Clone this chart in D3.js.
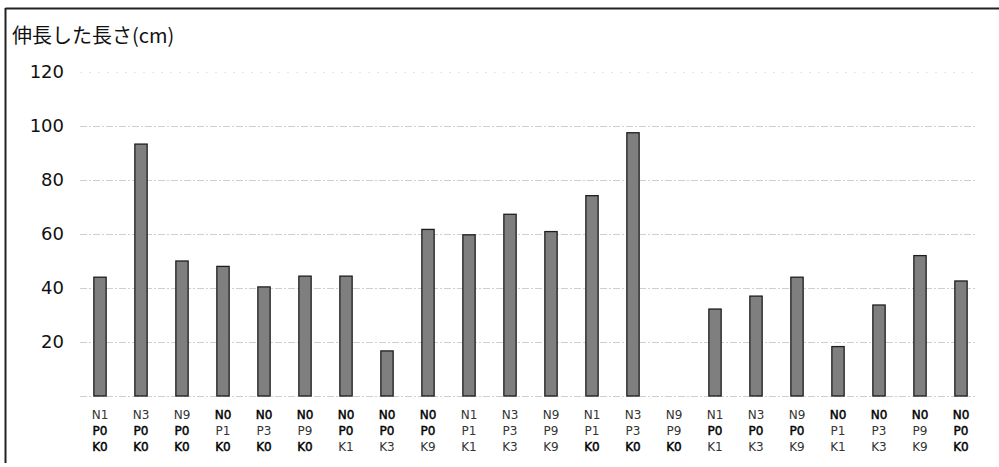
<!DOCTYPE html>
<html><head><meta charset="utf-8">
<script src="https://cdn.jsdelivr.net/npm/d3@7"></script>
<style>body{margin:0;background:#fff}svg{display:block}</style>
</head><body>
<svg id="c" width="999" height="467"></svg>
<script>
const nLabels = ["N1","N3","N9","N0","N0","N0","N0","N0","N0","N1","N3","N9","N1","N3","N9","N1","N3","N9","N0","N0","N0","N0"];
const pLabels = ["P0","P0","P0","P1","P3","P9","P0","P0","P0","P1","P3","P9","P1","P3","P9","P0","P0","P0","P1","P3","P9","P0"];
const kLabels = ["K0","K0","K0","K0","K0","K0","K1","K3","K9","K1","K3","K9","K0","K0","K0","K1","K3","K9","K1","K3","K9","K0"];
const values = [44, 93.3, 50, 48, 40.4, 44.4, 44.4, 16.7, 61.7, 59.7, 67.3, 60.9, 74.2, 97.5, 0, 32.2, 37, 44, 18.3, 33.7, 52, 42.6];
const yTicks = [20, 40, 60, 80, 100, 120];
const gridTicks = [0, 20, 40, 60, 80, 100, 120];
const title = "伸長した長さ(cm)";

const svg = d3.select("#c");
const font = "'DejaVu Sans', Verdana, sans-serif";
const cats = nLabels.map((d,i)=>i);
const x = d3.scaleBand().domain(cats).range([79.5, 981.5]).paddingInner(0.7).paddingOuter(0.35);
const y = d3.scaleLinear().domain([0,120]).range([396, 72]);

// frame
svg.append("line").attr("x1",5.5).attr("x2",999).attr("y1",8.5).attr("y2",8.5).attr("stroke","#222").attr("stroke-width",2);
svg.append("line").attr("x1",5.5).attr("x2",5.5).attr("y1",8).attr("y2",463).attr("stroke","#222").attr("stroke-width",2);

// grid
svg.append("g").selectAll("line").data(gridTicks).join("line")
  .attr("x1",80).attr("x2",977)
  .attr("y1",d=>Math.round(y(d))+0.5).attr("y2",d=>Math.round(y(d))+0.5)
  .attr("stroke",d=>d===120?"#e6e6e6":"#cfcfcf").attr("stroke-width",1)
  .attr("stroke-dasharray",d=>d===120?"2,7":"7,2,2,2");

// y axis labels
const ya = svg.append("g").attr("transform","translate(64,0)")
  .call(d3.axisLeft(y).tickValues(yTicks).tickSize(0).tickPadding(0));
ya.select(".domain").remove();
ya.selectAll("text").attr("font-family",font).attr("font-size",18).attr("fill","#111");

// title
svg.append("text").attr("x",12).attr("y",43).attr("font-family","'Noto Sans CJK JP', sans-serif")
  .attr("font-size",20).attr("fill","#111").text(title);

// bars
svg.append("g").selectAll("rect").data(values).join("rect")
  .attr("x",(d,i)=>x(i)).attr("width",x.bandwidth())
  .attr("y",d=>y(d)).attr("height",d=>y(0)-y(d))
  .attr("fill",d=>d>0?"#7f7f7f":"none").attr("stroke",d=>d>0?"#1e1e1e":"none").attr("stroke-width",1.3);

// category labels
const xa = svg.append("g");
const rows = [nLabels, pLabels, kLabels];
rows.forEach((arr, r) => {
  xa.selectAll(null).data(arr).join("text")
    .attr("x",(d,i)=>x(i)+x.bandwidth()/2)
    .attr("y",419 + r*16)
    .attr("text-anchor","middle")
    .attr("font-family",font).attr("font-size",12)
    .attr("fill",d=>d.endsWith("0")?"#000":"#333")
    .attr("stroke",d=>d.endsWith("0")?"#000":"none")
    .attr("stroke-width",0.45)
    .text(d=>d);
});
</script>
</body></html>
